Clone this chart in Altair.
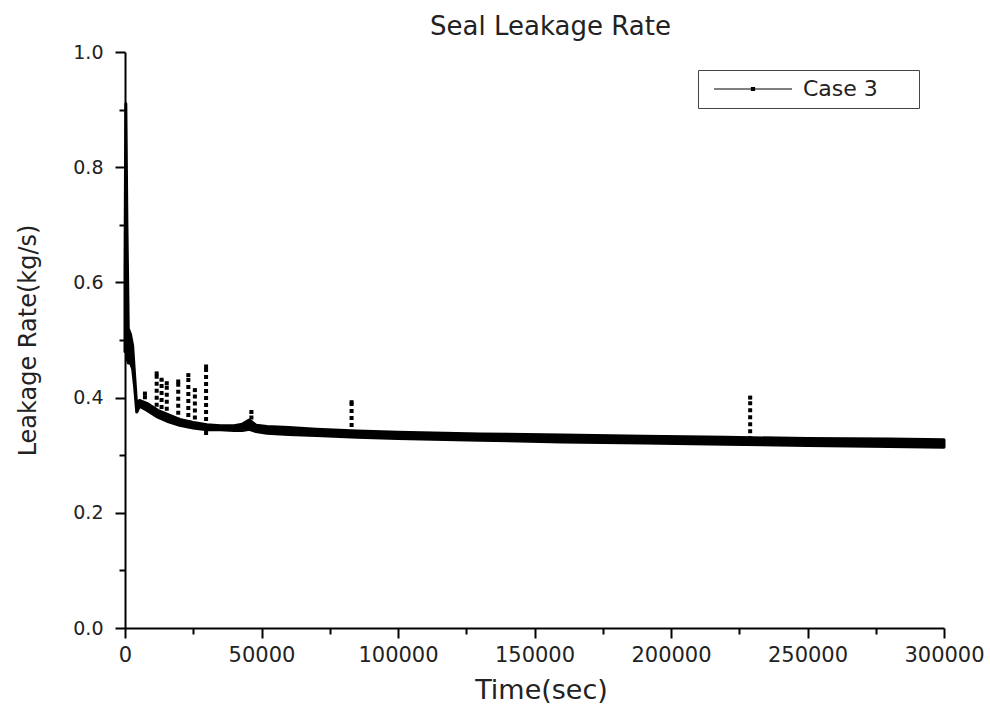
import altair as alt
import pandas as pd

# ---- data ----
series_name = "Case 3"

time_s = [0, 300, 700, 1200, 2000, 2800, 3500, 4300, 5300, 8000, 12000, 16000,
          20000, 25000, 30000, 35000, 40000, 43000, 45500, 48000, 52000, 60000,
          70000, 85000, 100000, 130000, 160000, 190000, 220000, 250000, 280000, 300000]
rate_lo = [0.48, 0.50, 0.47, 0.46, 0.46, 0.45, 0.42, 0.375, 0.385, 0.378, 0.366, 0.358,
           0.352, 0.347, 0.344, 0.344, 0.343, 0.343, 0.345, 0.341, 0.338, 0.336,
           0.334, 0.331, 0.329, 0.326, 0.323, 0.321, 0.319, 0.317, 0.315, 0.314]
rate_hi = [0.62, 0.91, 0.70, 0.52, 0.51, 0.49, 0.44, 0.385, 0.395, 0.390, 0.378, 0.370,
           0.362, 0.357, 0.353, 0.351, 0.351, 0.354, 0.361, 0.352, 0.350, 0.348,
           0.345, 0.342, 0.340, 0.337, 0.335, 0.333, 0.331, 0.329, 0.328, 0.327]

spike_time = [7300, 11600, 13400, 15300, 19500, 23200, 25600, 29700, 46300, 83000, 229000]
spike_base = [0.385, 0.372, 0.368, 0.365, 0.358, 0.354, 0.350, 0.335, 0.350, 0.337, 0.326]
spike_top = [0.407, 0.442, 0.431, 0.425, 0.428, 0.439, 0.413, 0.454, 0.375, 0.392, 0.400]

x_ticks = [0, 25000, 50000, 75000, 100000, 125000, 150000, 175000, 200000,
           225000, 250000, 275000, 300000]
y_ticks = [0.0, 0.1, 0.2, 0.3, 0.4, 0.5, 0.6, 0.7, 0.8, 0.9, 1.0]

FONT = "DejaVu Sans"
TXT = "#222222"

curve = pd.DataFrame({"t": time_s, "lo": rate_lo, "hi": rate_hi,
                      "series": [series_name] * len(time_s)})
spikes = pd.DataFrame({"t": spike_time, "base": spike_base, "top": spike_top})

xscale = alt.Scale(domain=[0, 300000], nice=False, zero=False)
yscale = alt.Scale(domain=[0, 1.0], nice=False)

x_axis = alt.Axis(
    title="Time(sec)", values=x_ticks, format="d",
    labelExpr="datum.value % 50000 == 0 ? datum.label : ''",
    tickSize={"condition": {"test": "datum.value % 50000 == 0", "value": 10}, "value": 6},
    labelFontSize=21, labelPadding=6, titleFontSize=27, titlePadding=12,
    labelFlush=False, labelOverlap=False, titleX=416,
)
y_axis = alt.Axis(
    title="Leakage Rate(kg/s)", values=y_ticks,
    labelExpr="round(datum.value * 10) % 2 == 0 ? format(datum.value, '.1f') : ''",
    tickSize={"condition": {"test": "round(datum.value * 10) % 2 == 0", "value": 10}, "value": 6},
    labelFontSize=19, labelPadding=12, titleFontSize=24, titlePadding=32,
    labelFlush=False, labelOverlap=False,
)

legend = alt.Legend(
    title=None, orient="none", legendX=573, legendY=18, padding=8,
    strokeColor="#444444", fillColor="white",
    symbolType="M-7.8,0H7.8M-0.3,-0.3H0.3V0.3H-0.3Z",
    symbolSize=100, symbolStrokeWidth=1.2, symbolStrokeColor="black",
    symbolFillColor="black", symbolOffset=36,
    labelFont=FONT, labelFontSize=22, labelColor=TXT, labelOffset=39,
    labelExpr="datum.label + '\u2800\u2800'",
)

area = alt.Chart(curve).mark_area(
    stroke="black", strokeWidth=3, strokeJoin="round"
).encode(
    x=alt.X("t:Q", scale=xscale, axis=x_axis),
    y=alt.Y("lo:Q", scale=yscale, axis=y_axis),
    y2="hi:Q",
    color=alt.Color("series:N", scale=alt.Scale(range=["black"]), legend=legend),
)

spike_rules = alt.Chart(spikes).mark_rule(
    color="black", strokeWidth=4, strokeDash=[4, 3]
).encode(x="t:Q", y="base:Q", y2="top:Q")

spike_tops = alt.Chart(spikes).mark_point(
    shape="square", filled=True, size=16, color="black", opacity=1
).encode(x="t:Q", y="top:Q")

chart = alt.layer(area, spike_rules, spike_tops).properties(
    width=819, height=576,
    padding={"left": 125, "top": 52, "right": 46, "bottom": 84},
    autosize=alt.AutoSizeParams(type="none"),
    title=alt.Title("Seal Leakage Rate", font=FONT, fontSize=26, fontWeight="normal",
                    color=TXT, dx=16, offset=3, anchor="middle"),
).configure_view(stroke=None).configure_axis(
    domainColor="black", domainWidth=2, tickColor="black", tickWidth=2, grid=False,
    labelFont=FONT, titleFont=FONT, labelColor=TXT, titleColor=TXT,
    titleFontWeight="normal",
)

chart.save("out.html", embed_options={"renderer": "svg", "actions": False})
